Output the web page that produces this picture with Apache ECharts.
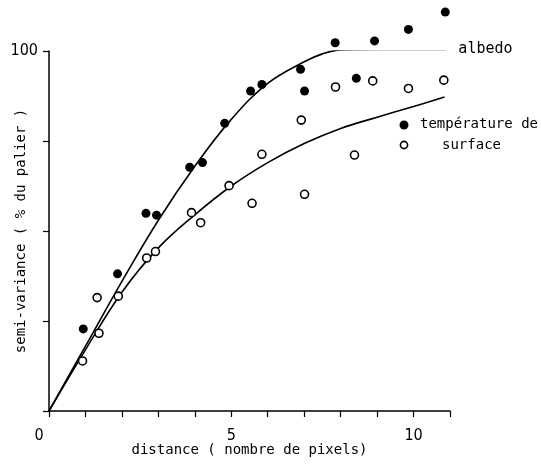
<!DOCTYPE html>
<html>
<head>
<meta charset="utf-8">
<script src="https://cdn.jsdelivr.net/npm/echarts@6/dist/echarts.min.js"></script>
<style>
  html, body { margin: 0; padding: 0; background: #fff; }
  #chart { width: 541px; height: 466px; }
</style>
</head>
<body>
<div id="chart"></div>
<script>
// measured points (distance, % du palier)
const albedoPoints = [
  [0.94, 22.8], [1.88, 38.1], [2.66, 54.9], [2.95, 54.4], [3.86, 67.7],
  [4.21, 69.0], [4.82, 79.9], [5.53, 88.9], [5.84, 90.7], [6.90, 94.9],
  [7.01, 88.9], [7.85, 102.3], [8.43, 92.4], [8.93, 102.8], [9.86, 106.0],
  [10.87, 110.8]
];
const surfacePoints = [
  [0.92, 13.9], [1.32, 31.5], [1.37, 21.6], [1.90, 31.9], [2.68, 42.5],
  [2.92, 44.3], [3.91, 55.1], [4.16, 52.3], [4.94, 62.6], [5.57, 57.7],
  [5.84, 71.3], [6.92, 80.8], [7.01, 60.2], [7.86, 90.0], [8.38, 71.1],
  [8.88, 91.7], [9.86, 89.6], [10.83, 91.9]
];

// fitted curves
const albedoCurve = [
  [0, 0], [1, 18], [2, 36], [3, 53], [4, 68], [5, 81], [6, 91],
  [7, 97], [7.5, 99.2], [8, 100.3], [9, 100.4], [10, 100.4], [10.9, 100.4]
];
const surfaceCurve = [
  [0, 0], [1, 17], [2, 33], [3, 45.3], [4, 54.5], [5, 62.5], [6, 69],
  [7, 74.3], [8, 78.5], [9, 81.6], [10, 84.6], [10.85, 87.2]
];

const xTickLabels = [0, 5, 10];
const yTickLabels = [100];

const mono = 'DejaVu Sans Mono';

const chart = echarts.init(document.getElementById('chart'));

const option = {
  animation: false,
  backgroundColor: '#fff',
  grid: { left: 49, right: 91, top: 51, bottom: 55, containLabel: false, outerBoundsMode: 'none' },
  xAxis: {
    type: 'value',
    min: 0,
    max: 11,
    interval: 1,
    name: 'distance ( nombre de pixels)',
    nameLocation: 'middle',
    nameGap: 32,
    nameMoveOverlap: false,
    nameTextStyle: { fontFamily: mono, fontSize: 14, color: '#000' },
    axisLine: { lineStyle: { color: '#000', width: 1.5 } },
    axisTick: { length: 6, lineStyle: { color: '#000', width: 1.2 } },
    splitLine: { show: false },
    axisLabel: {
      margin: 17,
      fontFamily: 'DejaVu Sans Condensed',
      fontSize: 16,
      color: '#000',
      formatter: (v) => {
        if (!xTickLabels.includes(v)) return '';
        return v === 0 ? '{z|0}' : String(v);
      },
      rich: {
        z: { fontFamily: 'DejaVu Sans Condensed', fontSize: 16, color: '#000', padding: [0, 20, 0, 0] }
      }
    }
  },
  yAxis: {
    type: 'value',
    min: 0,
    max: 100,
    interval: 25,
    name: 'semi-variance ( % du palier )',
    nameLocation: 'middle',
    nameGap: 21,
    nameMoveOverlap: false,
    nameTextStyle: { fontFamily: mono, fontSize: 14, color: '#000' },
    axisLine: { show: true, lineStyle: { color: '#000', width: 1.5 } },
    axisTick: { show: true, length: 6, lineStyle: { color: '#000', width: 1.2 } },
    splitLine: { show: false },
    axisLabel: {
      margin: 11,
      fontFamily: 'DejaVu Sans Condensed',
      fontSize: 16,
      color: '#000',
      formatter: (v) => (yTickLabels.includes(v) ? String(v) : '')
    }
  },
  series: [
    {
      name: 'albedo',
      type: 'line',
      data: albedoCurve,
      smooth: 0.4,
      symbol: 'none',
      lineStyle: { color: '#000', width: 1.6 },
      endLabel: {
        show: true,
        formatter: 'albedo',
        distance: 12,
        fontFamily: mono,
        fontSize: 15,
        color: '#000'
      }
    },
    {
      name: 'température de surface',
      type: 'line',
      data: surfaceCurve,
      smooth: 0.4,
      symbol: 'none',
      lineStyle: { color: '#000', width: 1.6 }
    },
    {
      name: 'albedo points',
      type: 'scatter',
      data: albedoPoints,
      clip: false,
      symbol: 'circle',
      symbolSize: 9,
      itemStyle: { color: '#000', opacity: 1 },
      z: 5
    },
    {
      name: 'surface points',
      type: 'scatter',
      data: surfacePoints,
      clip: false,
      symbol: 'circle',
      symbolSize: 8,
      itemStyle: { color: '#fff', borderColor: '#000', borderWidth: 1.6, opacity: 1 },
      z: 5
    }
  ],
  graphic: [
    { type: 'circle', shape: { cx: 404, cy: 125, r: 4.5 }, style: { fill: '#000' } },
    {
      type: 'text', x: 420, y: 124,
      style: { text: 'température de', fontFamily: mono, fontSize: 14, fill: '#000', verticalAlign: 'middle' }
    },
    { type: 'circle', shape: { cx: 404, cy: 145, r: 3.6 }, style: { fill: '#fff', stroke: '#000', lineWidth: 1.6 } },
    {
      type: 'text', x: 442, y: 145,
      style: { text: 'surface', fontFamily: mono, fontSize: 14, fill: '#000', verticalAlign: 'middle' }
    }
  ]
};

chart.setOption(option);
</script>
</body>
</html>
